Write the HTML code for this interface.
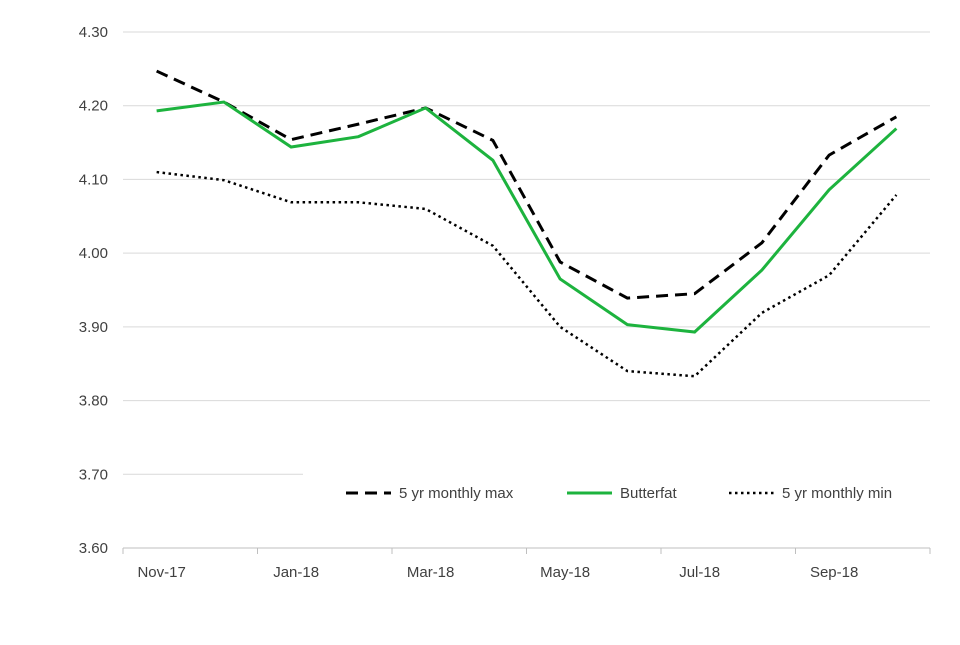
<!DOCTYPE html>
<html><head><meta charset="utf-8"><style>
body{margin:0;background:#fff;}
svg text{font-family:"Liberation Sans",sans-serif;font-size:15px;fill:#404040;}
</style></head><body>
<svg width="960" height="640" id="chart"></svg>
<script>
const categories=["Nov-17","Dec-17","Jan-18","Feb-18","Mar-18","Apr-18","May-18","Jun-18","Jul-18","Aug-18","Sep-18","Oct-18"];
const maxValues=[4.247,4.205,4.154,4.175,4.197,4.153,3.988,3.939,3.945,4.014,4.133,4.185];
const butterfatValues=[4.193,4.205,4.144,4.158,4.197,4.126,3.965,3.903,3.893,3.977,4.086,4.169];
const minValues=[4.110,4.099,4.069,4.069,4.060,4.010,3.900,3.840,3.833,3.919,3.970,4.079];
const yTicks=[3.6,3.7,3.8,3.9,4.0,4.1,4.2,4.3];
const NS="http://www.w3.org/2000/svg";
const svg=document.getElementById('chart');
const x0=123,x1=930,yTop=32,yBot=548,yMin=3.6,yMax=4.3;
const bw=(x1-x0)/categories.length;
const xs=i=>x0+bw*(i+0.5);
const ys=v=>yBot-(v-yMin)/(yMax-yMin)*(yBot-yTop);
function mk(t,a){const e=document.createElementNS(NS,t);for(const k in a)e.setAttribute(k,a[k]);svg.appendChild(e);return e;}
yTicks.forEach((v,i)=>{
  if(i>0){const g=mk('line',{x1:x0,x2:(Math.abs(v-3.7)<1e-9?303:x1),y1:ys(v),y2:ys(v),stroke:'#d9d9d9','stroke-width':1});
  
  }
  const t=mk('text',{x:108,y:ys(v)+5,'text-anchor':'end'});t.textContent=v.toFixed(2);
  
  
});
const ax=mk('line',{x1:x0,x2:x1,y1:yBot,y2:yBot,stroke:'#bfbfbf'});


for(let i=0;i<=categories.length;i+=2){
  const tk=mk('line',{x1:x0+bw*i,x2:x0+bw*i,y1:yBot,y2:yBot+6,stroke:'#bfbfbf'});
  
  
}
categories.forEach((c,i)=>{if(i%2==0){const t=mk('text',{x:xs(i)+5,y:577,'text-anchor':'middle'});t.textContent=c;
  
  }});
function line(vals,attrs,name){const p=mk('polyline',Object.assign({points:vals.map((v,i)=>xs(i)+','+ys(v)).join(' '),fill:'none'},attrs));
  
  }
line(maxValues,{stroke:'#000','stroke-width':3,'stroke-dasharray':'12 7'},'max-line');
line(butterfatValues,{stroke:'#1db33e','stroke-width':3},'butterfat-line');
line(minValues,{stroke:'#000','stroke-width':2.5,'stroke-dasharray':'2.5 3.5'},'min-line');
const leg=[["5 yr monthly max",{stroke:'#000','stroke-width':3,'stroke-dasharray':'12 7'},346],["Butterfat",{stroke:'#1db33e','stroke-width':3},567],["5 yr monthly min",{stroke:'#000','stroke-width':2.5,'stroke-dasharray':'2.5 3.5'},729]];
leg.forEach(([n,a,x])=>{const l=mk('line',Object.assign({x1:x,x2:x+45,y1:493,y2:493},a));
  
  
  const t=mk('text',{x:x+53,y:498});t.textContent=n;
  
  });
</script>
</body></html>
